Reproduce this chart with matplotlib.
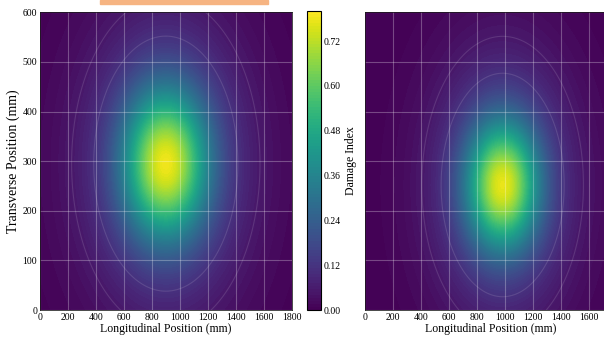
import numpy as np
import matplotlib
matplotlib.use("Agg")
from matplotlib import pyplot as plt
from matplotlib.patches import Rectangle

plt.rcParams['font.family'] = ['Liberation Serif', 'DejaVu Serif']

# grid of the plate (mm)
x_mm = np.linspace(0, 1800, 181)
y_mm = np.linspace(0, 600, 121)

# damage field: peak, centre, core spread and tail spread
peak = [0.78, 0.77]
centre_x = [900, 985]
centre_y = [295, 252]
core_x = [205, 175]
core_y = [102, 88]
tail_x = [400, 345]
tail_y = [200, 180]
core_share = 0.75

cbar_ticks = [0.00, 0.12, 0.24, 0.36, 0.48, 0.60, 0.72]
x_ticks = [0, 200, 400, 600, 800, 1000, 1200, 1400, 1600, 1800]
y_ticks = [0, 100, 200, 300, 400, 500, 600]

X, Y = np.meshgrid(x_mm, y_mm)

fig = plt.figure(figsize=(6.04, 3.4), dpi=100)
ax1 = fig.add_axes([0.066, 0.088, 0.417, 0.876])
cax = fig.add_axes([0.508, 0.088, 0.023, 0.879])
ax2 = fig.add_axes([0.604, 0.088, 0.417, 0.876])

levels = np.linspace(0, 0.8, 101)
for i, ax in enumerate([ax1, ax2]):
    core = np.exp(-0.5 * (((X - centre_x[i]) / core_x[i]) ** 2
                          + ((Y - centre_y[i]) / core_y[i]) ** 2))
    tail = np.exp(-0.5 * (((X - centre_x[i]) / tail_x[i]) ** 2
                          + ((Y - centre_y[i]) / tail_y[i]) ** 2))
    Z = peak[i] * (core_share * core + (1 - core_share) * tail)
    cs = ax.contourf(X, Y, Z, levels=levels, cmap='viridis', vmin=0, vmax=0.8)
    # faint outer rings
    ax.contour(X, Y, Z, levels=[0.05, 0.11], colors='white',
               linewidths=0.8, alpha=0.12)
    ax.set_xlim(0, 1800)
    ax.set_ylim(0, 600)
    ax.set_xticks(x_ticks)
    ax.set_yticks(y_ticks)
    ax.grid(True, color='white', alpha=0.28, linewidth=0.8)
    ax.tick_params(labelsize=7, length=0, pad=2)
    ax.set_xlabel('Longitudinal Position (mm)', fontsize=8.5, labelpad=1)
    for s in ax.spines.values():
        s.set_linewidth(0.5)
    if i == 0:
        first = cs

ax1.set_ylabel('Transverse Position (mm)', fontsize=10, labelpad=2)
ax2.set_yticklabels([])
# the right map runs off the image edge, its last tick label is not shown
ax2.set_xticklabels([str(t) for t in x_ticks[:-1]] + [''])

cb = fig.colorbar(first, cax=cax, ticks=cbar_ticks, format='%.2f')
cb.ax.tick_params(labelsize=7, length=0, pad=2)
cb.set_label('Damage Index', fontsize=8.5, labelpad=3)
cb.outline.set_linewidth(0.8)

# orange strip at the top edge
fig.patches.append(Rectangle((0.166, 0.988), 0.278, 0.012, transform=fig.transFigure,
                             color='#f6b482', zorder=5))

fig.savefig('out.png', dpi=100)
